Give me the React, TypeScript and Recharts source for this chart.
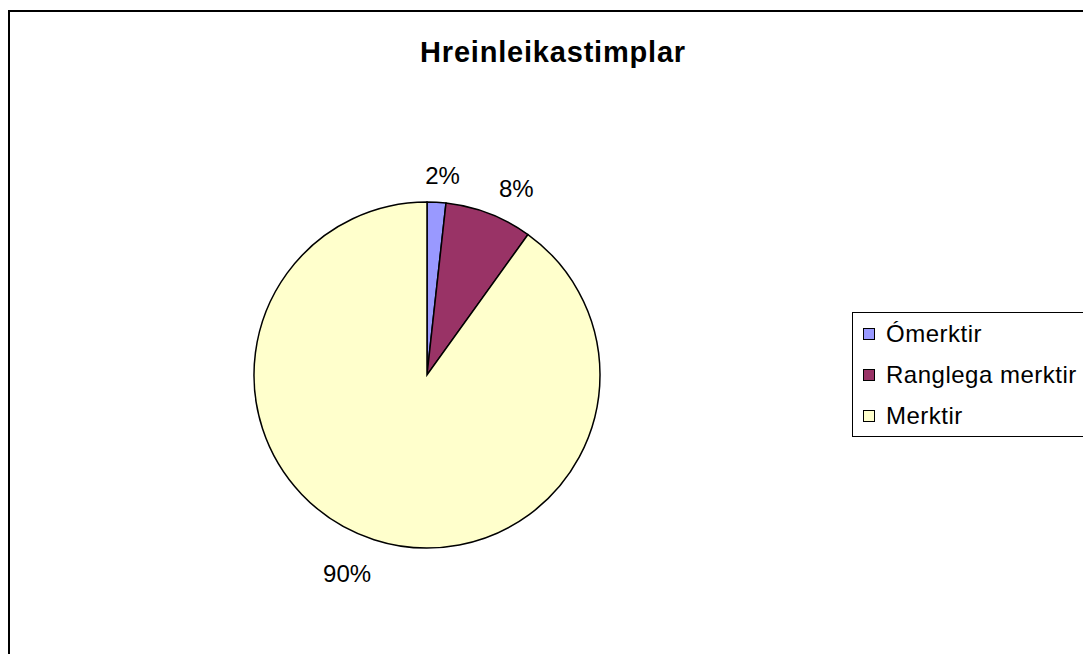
import React from 'react';
import { PieChart, Pie, Cell, Legend } from 'recharts';

// values (share of stamps, %)
const categories = ['Ómerktir', 'Ranglega merktir', 'Merktir'];
const shares = [1.75, 8.17, 90.08];
const colors = ['#9999FF', '#993366', '#FFFFCC'];
const title = 'Hreinleikastimplar';

const data = categories.map((name, i) => ({ name, value: shares[i] }));

const FONT = "Arial, 'Liberation Sans', sans-serif";
const RAD = Math.PI / 180;

const renderLabel = (props: any) => {
  const { cx, cy, midAngle, outerRadius, percent } = props;
  const text = `${Math.round(percent * 100)}%`;
  const fs = 24;
  const halfW = ((text.length - 1) * 0.556 + 0.889) * fs / 2;
  const halfH = fs * 0.36;
  const r = outerRadius + 22;
  const c = Math.cos(-midAngle * RAD);
  const s = Math.sin(-midAngle * RAD);
  const kx = Math.max(-1, Math.min(1, c * 3));
  const ky = Math.max(-1, Math.min(1, s * 3));
  return (
    <text
      x={cx + r * c + kx * halfW + 2}
      y={cy + r * s + ky * halfH + 4}
      textAnchor="middle"
      dominantBaseline="central"
      fill="#000"
      fontSize={fs}
      fontFamily={FONT}
    >
      {text}
    </text>
  );
};

const LegendBox = () => (
  <div
    style={{
      border: '1.5px solid #000',
      width: 300,
      height: 123,
      background: '#fff',
      fontFamily: FONT,
      fontSize: 24,
      letterSpacing: 0.5,
      color: '#000',
      boxSizing: 'content-box',
    }}
  >
    {categories.map((name, i) => (
      <div key={name} style={{ height: 41, display: 'flex', alignItems: 'center' }}>
        <span
          style={{
            display: 'inline-block',
            width: 10,
            height: 10,
            marginLeft: 10,
            marginRight: 11,
            background: colors[i],
            border: '1px solid #000',
          }}
        />
        <span>{name}</span>
      </div>
    ))}
  </div>
);

export default function App() {
  return (
    <div style={{ position: 'fixed', left: 0, top: 0, width: 1083, height: 654, overflow: 'hidden', background: '#fff' }}>
      <div
        style={{
          position: 'absolute',
          left: 8,
          top: 10,
          width: 1300,
          height: 1000,
          border: '2px solid #000',
          boxSizing: 'border-box',
        }}
      />
      <div
        style={{
          position: 'absolute',
          left: 0,
          top: 38,
          width: 1106,
          textAlign: 'center',
          fontFamily: FONT,
          fontWeight: 'bold',
          fontSize: 29,
          lineHeight: 1,
          letterSpacing: 0.8,
          color: '#000',
        }}
      >
        {title}
      </div>
      <div style={{ position: 'absolute', left: 0, top: 0 }}>
        <PieChart width={1083} height={654} margin={{ top: 0, right: 0, bottom: 0, left: 0 }}>
          <Pie
            data={data}
            dataKey="value"
            nameKey="name"
            cx={427}
            cy={375}
            outerRadius={173}
            startAngle={90}
            endAngle={-270}
            stroke="#000"
            strokeWidth={1.5}
            label={renderLabel}
            labelLine={false}
            isAnimationActive={false}
          >
            {data.map((d, i) => (
              <Cell key={d.name} fill={colors[i]} />
            ))}
          </Pie>
          <Legend
            content={() => <LegendBox />}
            wrapperStyle={{ position: 'absolute', left: 852, top: 312, width: 'auto' }}
          />
        </PieChart>
      </div>
    </div>
  );
}
